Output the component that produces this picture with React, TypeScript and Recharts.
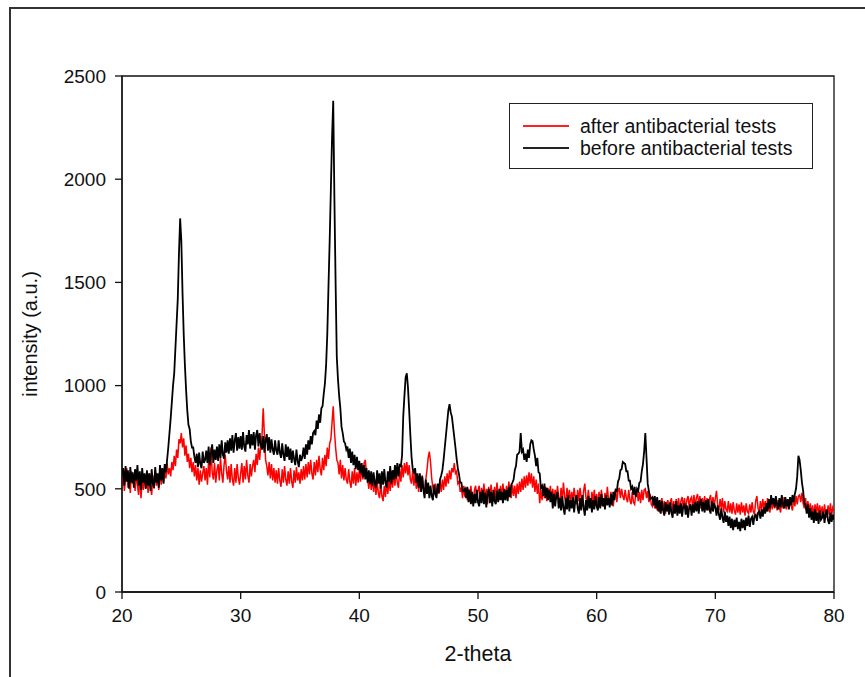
import React from 'react';
import { LineChart, Line, XAxis, YAxis, Legend, ReferenceArea, Label } from 'recharts';

// scan grid: 20 to 80 degrees, one reading every 0.1 degree
const thetaStart = 20;
const thetaStep = 0.1;

const xTicks = [20, 30, 40, 50, 60, 70, 80];
const yTicks = [0, 500, 1000, 1500, 2000, 2500];

// before antibacterial tests (black)
const beforeTests = [
  560, 600, 515, 610, 535, 590, 500, 605, 530, 580,
  505, 595, 540, 615, 515, 585, 495, 600, 530, 575,
  500, 590, 515, 575, 490, 595, 525, 505, 605, 530,
  575, 505, 615, 540, 600, 525, 620, 580, 640, 700,
  770, 840, 920, 1000, 1060, 1180, 1300, 1420, 1640, 1810,
  1700, 1450, 1250, 1100, 980, 880, 810, 790, 730, 700,
  700, 655, 625, 670, 605, 675, 620, 600, 680, 625,
  640, 685, 625, 705, 615, 675, 715, 625, 690, 640,
  705, 635, 715, 650, 735, 665, 645, 725, 675, 735,
  670, 745, 685, 760, 675, 735, 770, 685, 750, 695,
  755, 690, 775, 705, 680, 760, 715, 785, 695, 765,
  710, 775, 690, 760, 785, 705, 770, 715, 690, 755,
  675, 735, 765, 685, 750, 675, 740, 690, 665, 735,
  685, 665, 735, 675, 650, 720, 665, 635, 715, 655,
  705, 640, 695, 625, 685, 645, 615, 690, 635, 605,
  665, 635, 655, 700, 645, 715, 665, 735, 690, 755,
  715, 770, 780, 760, 830, 790, 860, 820, 890, 900,
  960, 1010, 1100, 1250, 1480, 1700, 1950, 2200, 2380, 1900,
  1500, 1140, 1030, 950, 890, 800, 770, 730, 720, 690,
  705, 650, 695, 625, 680, 615, 665, 595, 655, 590,
  635, 575, 625, 555, 615, 545, 600, 530, 590, 525,
  585, 515, 580, 530, 505, 590, 525, 575, 500, 585,
  520, 595, 530, 505, 585, 535, 610, 525, 590, 545,
  615, 550, 625, 560, 615, 610, 660, 850, 950, 1040,
  1060, 990, 880, 760, 655, 595, 580, 600, 530, 575,
  505, 575, 485, 560, 495, 455, 545, 475, 530, 455,
  515, 465, 445, 520, 475, 455, 525, 480, 545, 565,
  590, 640, 700, 760, 820, 880, 910, 870, 850, 800,
  750, 700, 645, 600, 570, 530, 530, 490, 490, 500,
  455, 510, 435, 495, 425, 485, 415, 475, 430, 495,
  435, 415, 485, 430, 495, 425, 480, 410, 475, 500,
  430, 485, 415, 495, 440, 425, 490, 435, 500, 445,
  485, 430, 500, 445, 495, 440, 510, 460, 520, 530,
  545, 590, 610, 665, 670, 680, 770, 680, 690, 640,
  670, 630, 690, 650, 715, 735, 730, 690, 660, 610,
  650, 580, 575, 505, 515, 465, 525, 455, 505, 445,
  495, 435, 485, 405, 475, 415, 465, 485, 405, 455,
  395, 465, 405, 375, 455, 400, 470, 390, 445, 405,
  460, 385, 445, 470, 405, 380, 455, 395, 470, 410,
  370, 445, 395, 465, 405, 455, 385, 445, 400, 465,
  415, 395, 460, 405, 475, 415, 455, 400, 470, 420,
  455, 410, 475, 420, 485, 445, 495, 490, 535, 550,
  590, 595, 630, 625, 620, 585, 585, 540, 540, 500,
  510, 470, 510, 460, 500, 490, 530, 535, 585, 620,
  680, 770, 650, 525, 490, 450, 455, 460, 420, 465,
  405, 460, 390, 445, 380, 440, 395, 370, 435, 390,
  425, 375, 435, 385, 360, 425, 380, 440, 370, 420,
  380, 430, 365, 415, 430, 375, 420, 360, 410, 425,
  370, 425, 385, 435, 390, 440, 380, 430, 450, 390,
  435, 385, 445, 395, 450, 400, 380, 440, 390, 430,
  410, 370, 420, 375, 350, 405, 360, 335, 390, 340,
  370, 320, 365, 310, 355, 300, 350, 315, 360, 305,
  340, 295, 355, 310, 350, 300, 360, 320, 370, 315,
  355, 365, 325, 370, 375, 345, 385, 390, 355, 400,
  365, 410, 380, 430, 390, 450, 405, 470, 425, 455,
  410, 465, 425, 400, 455, 410, 470, 425, 405, 460,
  415, 450, 400, 460, 420, 470, 435, 475, 500, 560,
  660, 640, 590, 530, 490, 430, 420, 380, 425, 360,
  405, 350, 390, 335, 400, 345, 385, 330, 395, 350,
  360, 390, 335, 380, 400, 345, 330, 385, 340, 375,
  350,
];

// after antibacterial tests (red)
const afterTests = [
  520, 575, 490, 560, 600, 505, 570, 480, 585, 525,
  560, 490, 580, 515, 470, 565, 455, 545, 495, 570,
  500, 560, 480, 575, 510, 470, 565, 500, 590, 515,
  560, 495, 585, 520, 600, 530, 615, 550, 625, 570,
  600, 560, 630, 590, 660, 610, 690, 650, 740, 720,
  770, 700, 745, 660, 710, 630, 670, 600, 650, 580,
  630, 560, 615, 540, 600, 520, 590, 535, 575, 610,
  540, 600, 520, 640, 555, 700, 580, 545, 625, 530,
  590, 620, 540, 650, 575, 530, 615, 665, 590, 545,
  610, 530, 620, 545, 515, 600, 530, 620, 555, 520,
  575, 625, 530, 610, 545, 640, 565, 530, 620, 560,
  610, 640, 580, 670, 615, 700, 640, 715, 760, 890,
  760, 640, 610, 565, 630, 550, 620, 540, 600, 530,
  590, 525, 600, 540, 510, 595, 530, 610, 545, 515,
  585, 525, 600, 535, 505, 590, 530, 605, 540, 580,
  525, 595, 540, 610, 545, 620, 555, 630, 570, 640,
  575, 545, 630, 565, 640, 580, 660, 595, 565, 650,
  590, 665, 610, 700, 645, 720, 740, 820, 900, 780,
  700, 640, 625, 570, 640, 550, 615, 540, 600, 545,
  525, 595, 535, 505, 585, 525, 600, 515, 580, 530,
  595, 535, 615, 545, 625, 640, 575, 545, 500, 565,
  495, 555, 485, 545, 470, 535, 480, 455, 525, 465,
  440, 515, 460, 535, 475, 545, 490, 560, 505, 575,
  515, 585, 530, 505, 595, 535, 615, 555, 625, 575,
  630, 565, 615, 545, 525, 590, 515, 575, 500, 555,
  485, 555, 500, 565, 505, 475, 545, 590, 650, 680,
  630, 550, 505, 475, 525, 465, 520, 475, 535, 485,
  545, 495, 560, 510, 575, 525, 590, 545, 600, 580,
  625, 575, 585, 525, 535, 485, 505, 455, 515, 460,
  505, 445, 500, 440, 515, 455, 430, 495, 515, 445,
  490, 515, 440, 505, 455, 525, 445, 500, 425, 510,
  455, 520, 465, 440, 510, 455, 530, 465, 445, 515,
  460, 525, 470, 445, 515, 460, 535, 475, 455, 520,
  465, 515, 455, 525, 475, 535, 485, 550, 495, 560,
  505, 565, 515, 580, 525, 575, 505, 560, 485, 545,
  475, 525, 430, 495, 445, 515, 455, 510, 440, 505,
  455, 515, 445, 500, 435, 495, 450, 515, 455, 430,
  505, 445, 530, 460, 435, 505, 445, 495, 430, 485,
  440, 505, 450, 425, 495, 440, 505, 455, 430, 490,
  525, 455, 435, 495, 440, 420, 485, 435, 495, 430,
  475, 420, 485, 430, 495, 440, 415, 480, 435, 510,
  445, 425, 485, 435, 415, 480, 495, 435, 490, 505,
  455, 500, 465, 445, 495, 455, 435, 495, 445, 425,
  485, 435, 425, 480, 495, 440, 485, 430, 495, 445,
  495, 500, 455, 490, 435, 475, 425, 415, 460, 405,
  450, 395, 440, 385, 435, 455, 395, 440, 380, 430,
  445, 390, 435, 455, 395, 440, 385, 450, 405, 455,
  395, 440, 460, 405, 455, 395, 445, 465, 410, 450,
  460, 405, 470, 415, 455, 475, 420, 465, 405, 455,
  415, 465, 405, 455, 395, 450, 470, 410, 460, 415,
  455, 490, 415, 395, 450, 405, 455, 385, 440, 400,
  390, 440, 385, 430, 380, 435, 395, 375, 430, 385,
  425, 375, 435, 385, 420, 370, 430, 390, 380, 425,
  385, 435, 390, 375, 440, 465, 405, 385, 440, 395,
  450, 400, 440, 390, 455, 405, 385, 445, 400, 450,
  405, 455, 395, 445, 410, 385, 450, 405, 460, 415,
  400, 450, 410, 460, 415, 395, 455, 415, 465, 425,
  465, 470, 435, 480, 430, 405, 455, 400, 440, 385,
  430, 380, 420, 365, 425, 380, 430, 375, 420, 370,
  415, 365, 425, 380, 360, 420, 375, 430, 370, 410,
  395,
];

const data = beforeTests.map((before, i) => ({
  theta: +(thetaStart + i * thetaStep).toFixed(1),
  before,
  after: afterTests[i],
}));

const font = '"Liberation Sans", Arial, sans-serif';

const LegendBox = () => (
  <div
    style={{
      width: 304,
      height: 66,
      boxSizing: 'border-box',
      border: '1.5px solid #222',
      background: '#fff',
      fontFamily: font,
      fontSize: 19.5,
      color: '#111',
      paddingTop: 11,
    }}
  >
    {[
      { name: 'after antibacterial tests', color: '#ff2020' },
      { name: 'before antibacterial tests', color: '#222' },
    ].map((item) => (
      <div key={item.name} style={{ display: 'flex', alignItems: 'center', height: 22 }}>
        <div style={{ width: 46, height: 0, borderTop: `2px solid ${item.color}`, marginLeft: 13, marginRight: 11 }} />
        <span>{item.name}</span>
      </div>
    ))}
  </div>
);

export default function App() {
  return (
    <div style={{ position: 'absolute', left: 0, top: 0, width: 865, height: 677, overflow: 'hidden', background: '#fff' }}>
      <div
        style={{
          position: 'absolute',
          left: 9,
          top: 7,
          right: -10,
          bottom: -10,
          borderLeft: '2px solid #333',
          borderTop: '2px solid #333',
        }}
      />
      <LineChart
        width={865}
        height={677}
        data={data}
        margin={{ top: 76, right: 31, bottom: 0, left: 0 }}
        style={{ position: 'absolute', left: 0, top: 0 }}
      >
        <ReferenceArea x1={20} x2={80} y1={0} y2={2500} fill="none" stroke="#111" strokeWidth={1.3} />
        <XAxis
          dataKey="theta"
          type="number"
          domain={[20, 80]}
          ticks={xTicks}
          allowDataOverflow
          height={85}
          tickSize={7}
          tickMargin={10}
          axisLine={{ stroke: '#111', strokeWidth: 1.3 }}
          tickLine={{ stroke: '#111', strokeWidth: 1.3 }}
          tick={{ fill: '#111', fontSize: 19, fontFamily: font }}
        >
          <Label value="2-theta" position="center" dy={19} style={{ fill: '#111', fontSize: 21.5, fontFamily: font }} />
        </XAxis>
        <YAxis
          type="number"
          domain={[0, 2500]}
          ticks={yTicks}
          width={122}
          tickSize={7}
          tickMargin={9}
          axisLine={{ stroke: '#111', strokeWidth: 1.3 }}
          tickLine={{ stroke: '#111', strokeWidth: 1.3 }}
          tick={{ fill: '#111', fontSize: 19, fontFamily: font }}
        >
          <Label
            value="intensity (a.u.)"
            angle={-90}
            position="center"
            dx={-31}
            style={{ fill: '#111', fontSize: 20, fontFamily: font, textAnchor: 'middle' }}
          />
        </YAxis>
        <Legend
          layout="vertical"
          verticalAlign="middle"
          align="center"
          content={() => <LegendBox />}
          wrapperStyle={{ left: 509, top: 103, width: 304, height: 66 }}
        />
        <Line
          dataKey="after"
          stroke="#ff0000"
          strokeWidth={1.5}
          dot={false}
          isAnimationActive={false}
          legendType="line"
        />
        <Line
          dataKey="before"
          stroke="#000000"
          strokeWidth={1.8}
          dot={false}
          isAnimationActive={false}
          legendType="line"
        />
      </LineChart>
    </div>
  );
}
